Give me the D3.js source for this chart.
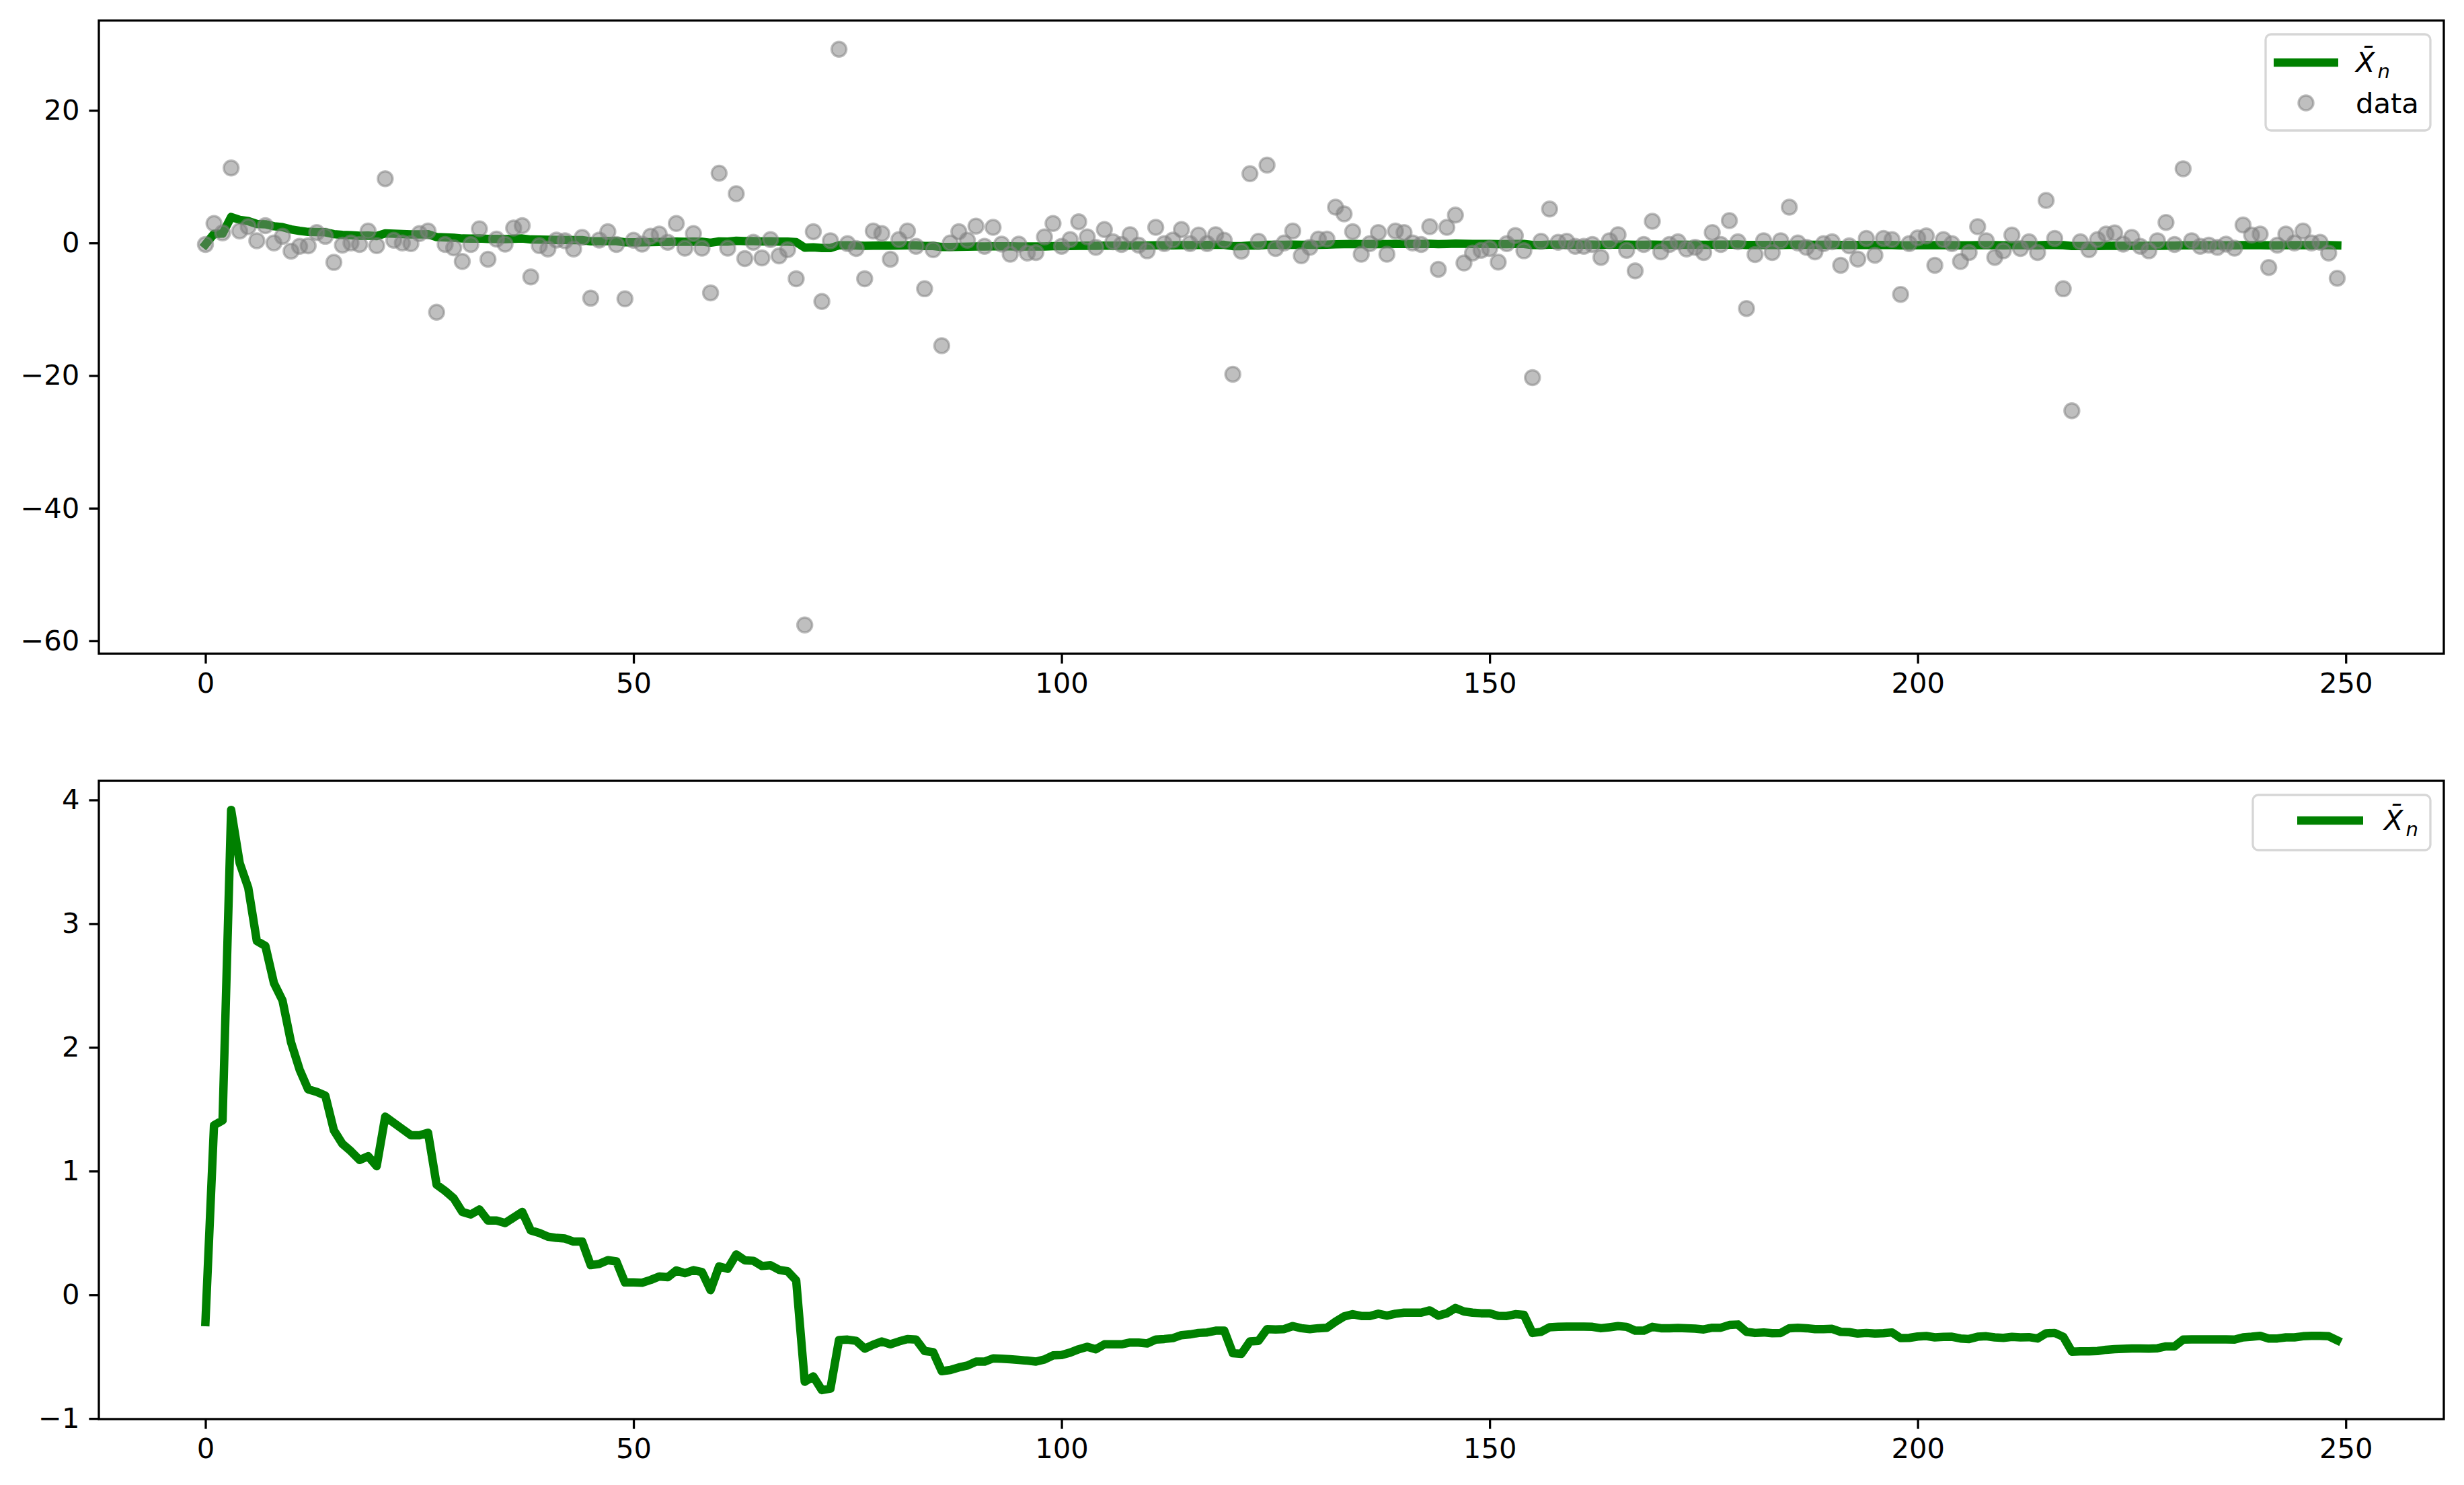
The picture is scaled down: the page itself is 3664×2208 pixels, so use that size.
<!DOCTYPE html>
<html>
<head>
<meta charset="utf-8">
<script src="https://cdn.jsdelivr.net/npm/d3@7"></script>
<style>
  body { margin: 0; background: #fff; }
  text { font-family: "DejaVu Sans", sans-serif; }
</style>
</head>
<body>
<script>
// samples (index = position in array)
var dataVals = [
  -0.24, 2.93, 1.52, 11.3, 1.79, 2.46, 0.34, 2.6, 0.0, 1.0,
  -1.25, -0.5, -0.44, 1.58, 1.0, -2.93, -0.34, 0.0, -0.24, 1.79,
  -0.4, 9.68, 0.4, 0.0, -0.1, 1.42, 1.79, -10.45, -0.24, -0.74,
  -2.8, -0.24, 2.12, -2.46, 0.57, -0.17, 2.26, 2.6, -5.12, -0.4,
  -0.91, 0.44, 0.34, -0.91, 0.84, -8.33, 0.44, 1.69, -0.24, -8.43,
  0.4, -0.17, 1.0, 1.35, 0.1, 2.93, -0.78, 1.42, -0.78, -7.52,
  10.52, -0.78, 7.42, -2.36, 0.1, -2.26, 0.5, -1.96, -1.01, -5.39,
  -57.6, 1.69, -8.83, 0.34, 29.2, -0.1, -0.84, -5.39, 1.79, 1.42,
  -2.46, 0.5, 1.79, -0.5, -6.91, -1.01, -15.5, 0.0, 1.69, 0.4,
  2.53, -0.5, 2.36, -0.17, -1.69, -0.17, -1.52, -1.45, 0.91, 2.93,
  -0.5, 0.5, 3.2, 0.91, -0.67, 2.02, 0.17, -0.24, 1.25, -0.34,
  -1.18, 2.36, -0.1, 0.44, 2.02, -0.1, 1.18, -0.1, 1.25, 0.4,
  -19.8, -1.25, 10.45, 0.24, 11.73, -0.84, 0.0, 1.79, -1.92, -0.67,
  0.57, 0.57, 5.39, 4.38, 1.69, -1.69, -0.1, 1.58, -1.69, 1.79,
  1.58, 0.0, -0.24, 2.46, -3.98, 2.36, 4.21, -3.03, -1.52, -1.11,
  -0.84, -2.9, -0.1, 1.11, -1.18, -20.3, 0.24, 5.12, 0.1, 0.24,
  -0.5, -0.5, -0.24, -2.19, 0.34, 1.25, -1.11, -4.21, -0.24, 3.27,
  -1.35, -0.24, 0.17, -0.91, -0.67, -1.45, 1.58, -0.24, 3.37, 0.17,
  -9.88, -1.75, 0.34, -1.45, 0.34, 5.39, 0.0, -0.67, -1.35, -0.1,
  0.17, -3.37, -0.44, -2.43, 0.67, -1.85, 0.67, 0.5, -7.75, -0.1,
  0.75, 1.05, -3.37, 0.5, -0.1, -2.8, -1.45, 2.46, 0.34, -2.19,
  -1.18, 1.18, -0.84, 0.17, -1.45, 6.41, 0.67, -6.91, -25.3, 0.17,
  -1.01, 0.5, 1.35, 1.52, -0.17, 0.84, -0.5, -1.18, 0.34, 3.1,
  -0.24, 11.19, 0.34, -0.5, -0.34, -0.67, -0.17, -0.78, 2.7, 1.18,
  1.35, -3.71, -0.34, 1.35, 0.0, 1.79, 0.0, 0.1, -1.52, -5.33
];

// running mean
var meanVals = [
  -0.22, 1.37, 1.41, 3.92, 3.49, 3.29, 2.86, 2.82, 2.52, 2.38,
  2.04, 1.82, 1.66, 1.64, 1.61, 1.33, 1.22, 1.16, 1.09, 1.12,
  1.04, 1.44, 1.39, 1.34, 1.29, 1.29, 1.31, 0.89, 0.84, 0.78,
  0.67, 0.65, 0.69, 0.60, 0.60, 0.58, 0.625, 0.67, 0.52, 0.50,
  0.47, 0.46, 0.455, 0.43, 0.43, 0.24, 0.25, 0.28, 0.27, 0.10,
  0.10, 0.098, 0.12, 0.148, 0.142, 0.197, 0.175, 0.199, 0.184, 0.038,
  0.23, 0.21, 0.326, 0.279, 0.275, 0.233, 0.239, 0.202, 0.19, 0.117,
  -0.703, -0.66, -0.77, -0.758, -0.366, -0.362, -0.372, -0.435, -0.403, -0.377,
  -0.40, -0.377, -0.357, -0.362, -0.454, -0.463, -0.617, -0.608, -0.587, -0.572,
  -0.54, -0.54, -0.514, -0.517, -0.521, -0.526, -0.532, -0.54, -0.523, -0.49,
  -0.487, -0.467, -0.44, -0.42, -0.44, -0.40, -0.40, -0.40, -0.386, -0.386,
  -0.393, -0.362, -0.357, -0.35, -0.326, -0.32, -0.308, -0.304, -0.29, -0.29,
  -0.472, -0.477, -0.377, -0.372, -0.277, -0.28, -0.277, -0.253, -0.27, -0.277,
  -0.27, -0.266, -0.217, -0.175, -0.157, -0.171, -0.171, -0.153, -0.168, -0.153,
  -0.144, -0.144, -0.144, -0.126, -0.168, -0.149, -0.107, -0.135, -0.144, -0.149,
  -0.15, -0.17, -0.171, -0.157, -0.162, -0.308, -0.299, -0.262, -0.259, -0.257,
  -0.257, -0.257, -0.259, -0.27, -0.262, -0.253, -0.259, -0.29, -0.29, -0.259,
  -0.27, -0.27, -0.268, -0.27, -0.273, -0.28, -0.266, -0.266, -0.244, -0.24,
  -0.299, -0.308, -0.304, -0.31, -0.308, -0.27, -0.266, -0.27, -0.277, -0.277,
  -0.275, -0.299, -0.302, -0.313, -0.308, -0.313, -0.31, -0.304, -0.35, -0.348,
  -0.337, -0.333, -0.344, -0.34, -0.339, -0.353, -0.357, -0.339, -0.335, -0.344,
  -0.348, -0.34, -0.344, -0.342, -0.353, -0.311, -0.308, -0.339, -0.459, -0.457,
  -0.457, -0.454, -0.444, -0.439, -0.437, -0.434, -0.434, -0.435, -0.432, -0.417,
  -0.417, -0.362, -0.36, -0.36, -0.36, -0.36, -0.36, -0.362, -0.344, -0.339,
  -0.332, -0.353, -0.353, -0.344, -0.344, -0.335, -0.332, -0.332, -0.335, -0.368
];

var xTicks = [0, 50, 100, 150, 200, 250];
var topYTicks = [-60, -40, -20, 0, 20];
var bottomYTicks = [-1, 0, 1, 2, 3, 4];

var W = 3664, H = 2208;
var fontSize = 41.7;
var green = "#008000";
var markerR = 11, markerStroke = 3.5;

var svg = d3.select("body").append("svg")
    .attr("width", W)
    .attr("height", H);
svg.append("rect").attr("width", W).attr("height", H).attr("fill", "#fff");

var left = 147, right = 3634;
var topBox = {top: 30.5, bottom: 972};
var botBox = {top: 1161, bottom: 2110};

// matplotlib-like 5% padding
function padded(ext) {
    var m = (ext[1] - ext[0]) * 0.05;
    return [ext[0] - m, ext[1] + m];
}

var x = d3.scaleLinear()
    .domain(padded([0, dataVals.length - 1]))
    .range([left, right]);

var yTop = d3.scaleLinear()
    .domain(padded(d3.extent(dataVals.concat(meanVals))))
    .range([topBox.bottom, topBox.top]);

var yBot = d3.scaleLinear()
    .domain(padded(d3.extent(meanVals)))
    .range([botBox.bottom, botBox.top]);

var meanLine = function(y) {
    return d3.line()
        .x(function(d, i) { return x(i); })
        .y(function(d) { return y(d); });
};

function drawAxes(y, box, yTicks) {
    var g = svg.append("g");

    g.append("g")
        .attr("transform", "translate(0," + box.bottom + ")")
        .call(d3.axisBottom(x).tickValues(xTicks).tickSize(14.6).tickPadding(14).tickFormat(d3.format("d")))
        .call(styleAxis);

    g.append("g")
        .attr("transform", "translate(" + left + ",0)")
        .call(d3.axisLeft(y).tickValues(yTicks).tickSize(14.6).tickPadding(14).tickFormat(d3.format("d")))
        .call(styleAxis);

    g.append("rect")
        .attr("x", left)
        .attr("y", box.top)
        .attr("width", right - left)
        .attr("height", box.bottom - box.top)
        .attr("fill", "none")
        .attr("stroke", "#000")
        .attr("stroke-width", 3.3);
}

function styleAxis(sel) {
    sel.select(".domain").remove();
    sel.selectAll(".tick line").attr("stroke", "#000").attr("stroke-width", 3.3);
    sel.selectAll(".tick text")
        .attr("fill", "#000")
        .style("font-size", fontSize + "px")
        .style("font-family", "'DejaVu Sans', sans-serif");
}

function marker(sel) {
    sel.attr("r", markerR)
        .attr("fill", "gray")
        .attr("fill-opacity", 0.5)
        .attr("stroke", "gray")
        .attr("stroke-opacity", 0.5)
        .attr("stroke-width", markerStroke);
}

// ---------------- top panel ----------------
svg.append("path")
    .datum(meanVals)
    .attr("d", meanLine(yTop))
    .attr("fill", "none")
    .attr("stroke", green)
    .attr("stroke-width", 12.5)
    .attr("stroke-linejoin", "round")
    .attr("stroke-linecap", "square");

svg.append("g")
    .selectAll("circle")
    .data(dataVals)
    .enter().append("circle")
    .attr("cx", function(d, i) { return x(i); })
    .attr("cy", function(d) { return yTop(d); })
    .call(marker);

drawAxes(yTop, topBox, topYTicks);

// ---------------- bottom panel ----------------
svg.append("path")
    .datum(meanVals)
    .attr("d", meanLine(yBot))
    .attr("fill", "none")
    .attr("stroke", green)
    .attr("stroke-width", 12.5)
    .attr("stroke-linejoin", "round")
    .attr("stroke-linecap", "square");

drawAxes(yBot, botBox, bottomYTicks);

// ---------------- legends ----------------
function xbarLabel(g, tx, ty) {
    var t = g.append("text")
        .attr("x", tx)
        .attr("y", ty)
        .style("font-size", fontSize + "px");
    t.append("tspan").style("font-style", "italic").text("X\u0304");
    t.append("tspan")
        .style("font-style", "italic")
        .style("font-size", (fontSize * 0.7) + "px")
        .attr("dx", 4)
        .attr("dy", 9)
        .text("n");
}

function legendBox(g, x0, y0, w, h) {
    g.append("rect")
        .attr("x", x0).attr("y", y0)
        .attr("width", w).attr("height", h)
        .attr("rx", 8).attr("ry", 8)
        .attr("fill", "#fff").attr("fill-opacity", 0.8)
        .attr("stroke", "#d6d6d6")
        .attr("stroke-width", 3.3);
}

var lg1 = svg.append("g");
legendBox(lg1, 3369, 51, 245, 143);
lg1.append("line")
    .attr("x1", 3381).attr("x2", 3477)
    .attr("y1", 93).attr("y2", 93)
    .attr("stroke", green).attr("stroke-width", 12.5);
xbarLabel(lg1, 3503, 107);
lg1.append("circle")
    .attr("cx", 3429).attr("cy", 153)
    .call(marker);
lg1.append("text")
    .attr("x", 3503).attr("y", 168)
    .style("font-size", fontSize + "px")
    .text("data");

var lg2 = svg.append("g");
legendBox(lg2, 3350, 1182, 264, 82);
lg2.append("line")
    .attr("x1", 3416).attr("x2", 3514)
    .attr("y1", 1220).attr("y2", 1220)
    .attr("stroke", green).attr("stroke-width", 12.5);
xbarLabel(lg2, 3545, 1234);
</script>
</body>
</html>
